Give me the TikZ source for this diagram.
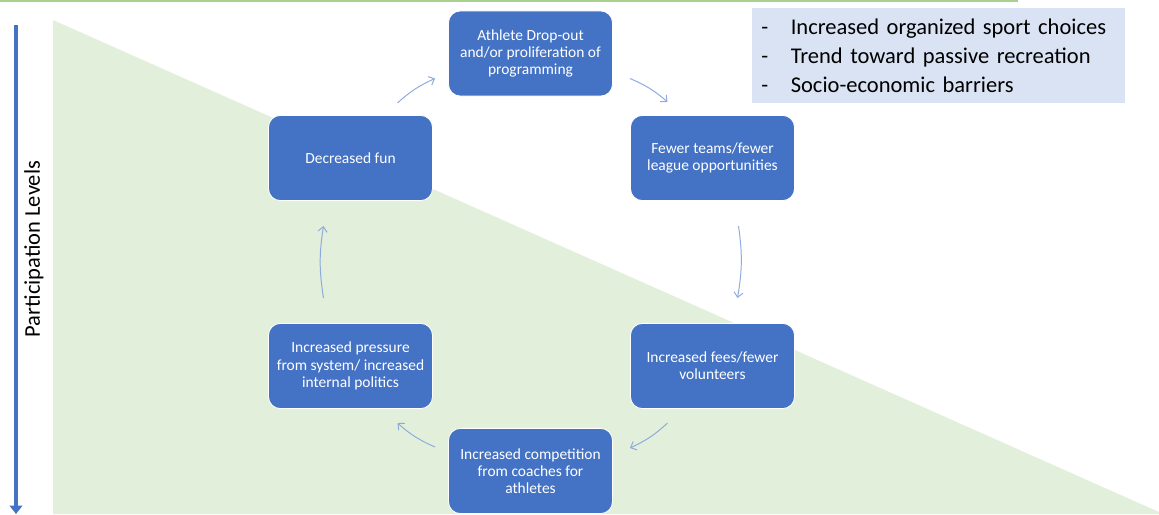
\documentclass[tikz,border=0pt]{standalone}
\usepackage{fontspec}
\setmainfont{Carlito}
\usetikzlibrary{arrows.meta}
\definecolor{boxblue}{HTML}{4472C4}
\definecolor{arrowblue}{HTML}{8FAADC}
\definecolor{lightgreen}{HTML}{E2EFDA}
\definecolor{linegreen}{HTML}{A9D18E}
\definecolor{listblue}{HTML}{DAE3F3}
\begin{document}
\begin{tikzpicture}[x=0.025cm,y=-0.025cm]
            \tikzset{
                cyclebox/.style={draw=white,line width=0.6pt,fill=boxblue,rounded corners=8.5pt,
                    minimum width=4.1cm,minimum height=2.13cm,inner sep=2pt,
                    text=white,align=center,font=\fontsize{11}{12.3}\selectfont},
                cyclearrow/.style={draw=arrowblue,line width=0.7pt,
                    -{Straight Barb[length=3.5pt,width=6.5pt]},bend left=9},}
            \useasboundingbox (0,0) rectangle (1159,514);
            \fill [lightgreen] (53,20) -- (53,514) -- (1159,514) -- (1159,512) -- cycle;
            \draw [linegreen,line width=1.5pt] (0,0.6) -- (1018,0.6);
            % axis
            \coordinate (axistop) at (16,25);
            \coordinate (axisbot) at (16,514);
            \draw [boxblue,line width=2.2pt,-{Triangle[length=6pt,width=9pt]}] (axistop) -- (axisbot);
            \node [rotate=90,font=\fontsize{16}{19}\selectfont] (axislabel) at (34,249) {Participation Levels};
            % cycle
            \node [cyclebox] (drop) at (530.5,53.5) {Athlete Drop-out\\and/or proliferation of\\programming};
            \node [cyclebox] (teams) at (712.5,158) {Fewer teams/fewer\\league opportunities};
            \node [cyclebox] (fees) at (712.5,366) {Increased fees/fewer\\volunteers};
            \node [cyclebox] (comp) at (530.5,471) {Increased competition\\from coaches for\\athletes};
            \node [cyclebox] (press) at (350.5,366) {Increased pressure\\from system/ increased\\internal politics};
            \node [cyclebox] (fun) at (350.5,158) {Decreased fun};
            \draw [cyclearrow] ([shift={(47,-12)}]fun.north) to ([shift={(-13,25)}]drop.west);
            \draw [cyclearrow] ([shift={(17,25)}]drop.east) to ([shift={(-45,-13)}]teams.north);
            \draw [cyclearrow] ([shift={(26,25)}]teams.south) to ([shift={(25,-25)}]fees.north);
            \draw [cyclearrow] ([shift={(-45,14)}]fees.south) to ([shift={(17,-23)}]comp.east);
            \draw [cyclearrow] ([shift={(-13,-24)}]comp.west) to ([shift={(47,14)}]press.south);
            \draw [cyclearrow] ([shift={(-27,-25)}]press.north) to ([shift={(-27,25)}]fun.south);
            % trends
            \node [fill=listblue,anchor=north west,minimum height=2.375cm,inner xsep=6.4pt,
                text width=252pt,align=left,font=\fontsize{16}{20.3}\selectfont] (trends) at (752,8)
                {\mbox{\makebox[21pt][l]{-}Increased organized sport choices}\\
                 \mbox{\makebox[21pt][l]{-}Trend toward passive recreation}\\
                 \mbox{\makebox[21pt][l]{-}Socio-economic barriers}};
        \end{tikzpicture}
\end{document}
